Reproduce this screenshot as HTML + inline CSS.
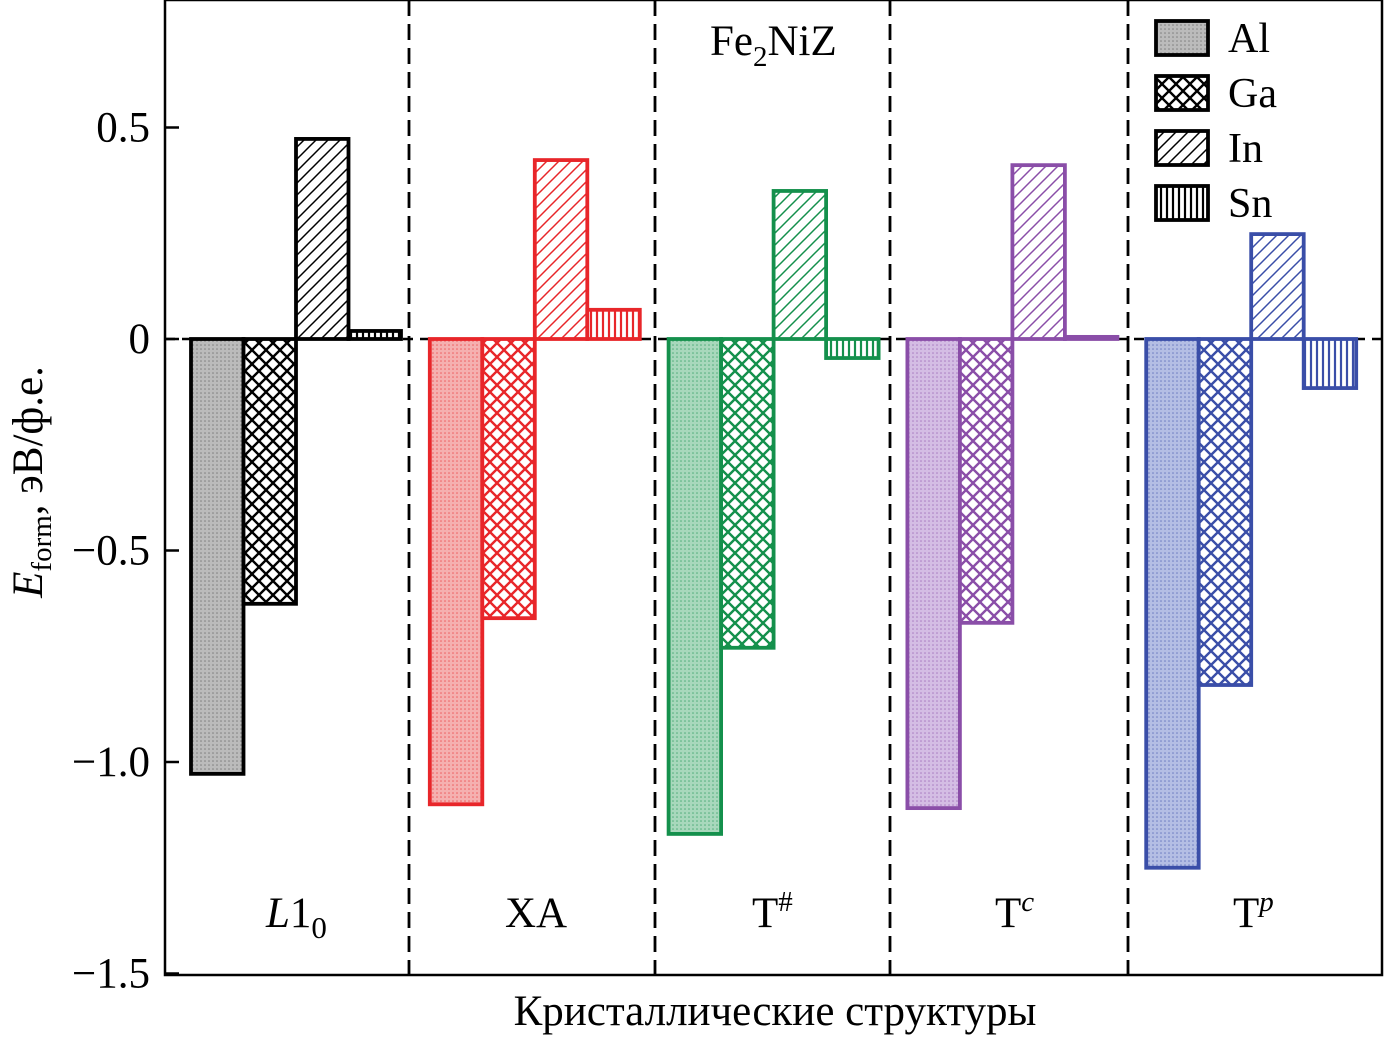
<!DOCTYPE html>
<html><head><meta charset="utf-8"><style>
body{margin:0;background:#fff;}
svg{display:block;font-family:"Liberation Serif",serif;}
</style></head><body>
<svg id="chart" width="1384" height="1037" viewBox="0 0 1384 1037" xmlns="http://www.w3.org/2000/svg">
<defs id="defs"></defs>
<g id="frame"></g>
<g id="bars"></g>
<g id="axes"></g>
<g id="legend"></g>
</svg>
<script>
const groups = ["L1_0","XA","T#","Tc","Tp"];
const alloys = ["Al","Ga","In","Sn"];
const valAl = [-1.028,-1.10,-1.17,-1.109,-1.25];
const valGa = [-0.626,-0.66,-0.73,-0.671,-0.818];
const valIn = [0.473,0.423,0.35,0.411,0.248];
const valSn = [0.019,0.069,-0.045,0.005,-0.116];
const yTicks = [0.5,0,-0.5,-1.0,-1.5];
const yTickLabels = ["0.5","0","\u22120.5","\u22121.0","\u22121.5"];

const NS="http://www.w3.org/2000/svg";
const colors=["#000","#e8262a","#14904c","#8a4ea8","#3a4ea8"];
const tints=["#bbb","#f5b0b0","#a8d8bc","#d4bde4","#b4bee4"];
const X0=165,X1=1382,Y0=0,Y1=975;
function y(v){return 339 - v*423;}
function groupX(g){return 191 + g*238.8;}
const BW=52.5;
function mk(tag,attrs,parent){const e=document.createElementNS(NS,tag);for(const k in attrs)e.setAttribute(k,attrs[k]);parent.appendChild(e);return e;}
const defs=document.getElementById('defs');
function makePatterns(ci){
  const c=colors[ci], t=tints[ci];
  let p=mk('pattern',{id:'al'+ci,width:4,height:4,patternUnits:'userSpaceOnUse'},defs);
  mk('rect',{width:4,height:4,fill:t},p);
  mk('circle',{cx:1,cy:1,r:0.8,fill:ci==0?'#555':c,opacity:0.6},p);
  p=mk('pattern',{id:'ga'+ci,width:14,height:14,patternUnits:'userSpaceOnUse'},defs);
  mk('rect',{width:14,height:14,fill:'#fff'},p);
  mk('path',{d:'M0 0L14 14M14 0L0 14M-7 7L0 0M7 21L14 14',stroke:c,'stroke-width':2.4},p);
  p=mk('pattern',{id:'in'+ci,width:12,height:12,patternUnits:'userSpaceOnUse'},defs);
  mk('rect',{width:12,height:12,fill:'#fff'},p);
  mk('path',{d:'M-3 15L15 -3M-9 9L9 -9M3 21L21 3',stroke:c,'stroke-width':1.5},p);
  p=mk('pattern',{id:'sn'+ci,width:6,height:6,patternUnits:'userSpaceOnUse'},defs);
  mk('rect',{width:6,height:6,fill:'#fff'},p);
  mk('path',{d:'M3 0V6',stroke:c,'stroke-width':2.2},p);
}
for(let i=0;i<5;i++)makePatterns(i);
const frame=document.getElementById('frame');
let r=mk('rect',{x:X0,y:Y0,width:X1-X0,height:Y1-Y0,fill:'none',stroke:'#000','stroke-width':2.5},frame);


let zl=mk('line',{x1:X0,x2:X1,y1:y(0),y2:y(0),stroke:'#000','stroke-width':2.5,'stroke-dasharray':'10 7'},frame);


[409,655,890,1128].forEach(x=>{
  const l=mk('line',{x1:x,x2:x,y1:Y0,y2:Y1,stroke:'#000','stroke-width':2.8,'stroke-dasharray':'16 8'},frame);
  
  
});
const bars=document.getElementById('bars');
const series=[valAl,valGa,valIn,valSn];
const pref=['al','ga','in','sn'];
for(let g=0;g<groups.length;g++){
  for(let s=0;s<4;s++){
    const v=series[s][g];
    const x=groupX(g)+s*BW;
    const y1=Math.min(y(v),y(0)),h=Math.max(Math.abs(y(v)-y(0)),2);
    const b=mk('rect',{x:x,y:y1,width:BW,height:h,fill:'url(#'+pref[s]+g+')',stroke:colors[g],'stroke-width':3.8},bars);
    
    
  }
}
const axes=document.getElementById('axes');
yTicks.forEach((v,i)=>{
  const t=mk('line',{x1:X0,x2:X0+14,y1:y(v),y2:y(v),stroke:'#000','stroke-width':2.5},axes);
  
  
  const tx=mk('text',{x:150,y:y(v)+14,'text-anchor':'end','font-size':43},axes);
  tx.textContent=yTickLabels[i];
  
  
});
const gl=[[266,'<tspan font-style="italic">L</tspan>1<tspan font-size="31" dy="11">0</tspan>'],[505,'XA'],[752,'T<tspan font-size="29" dy="-16">#</tspan>'],[995,'T<tspan font-size="29" dy="-16" font-style="italic">c</tspan>'],[1233,'T<tspan font-size="29" dy="-16" font-style="italic">p</tspan>']];
gl.forEach(([x,h])=>{
  const t=mk('text',{x:x,y:927,'font-size':43},axes);
  t.innerHTML=h;
  
  
});
let tt=mk('text',{x:710,y:55,'font-size':43},axes);
tt.innerHTML='Fe<tspan font-size="29" dy="11">2</tspan><tspan dy="-11">NiZ</tspan>';


let xt=mk('text',{x:775,y:1025,'text-anchor':'middle','font-size':43},axes);
xt.textContent='Кристаллические структуры';


let yt=mk('text',{x:0,y:0,'font-size':43,transform:'translate(42,482) rotate(-90)','text-anchor':'middle'},axes);
yt.innerHTML='<tspan font-style="italic">E</tspan><tspan font-size="29" dy="9">form</tspan><tspan dy="-9">, эВ/ф.е.</tspan>';


const leg=document.getElementById('legend');
alloys.forEach((a,i)=>{
  const yy=21+i*55;
  const b=mk('rect',{x:1156,y:yy,width:52,height:34,fill:'url(#'+pref[i]+'0)',stroke:'#000','stroke-width':3.8},leg);
  
  
  const t=mk('text',{x:1228,y:yy+31,'font-size':42},leg);
  t.textContent=a;
  
  
});
</script>
</body></html>
